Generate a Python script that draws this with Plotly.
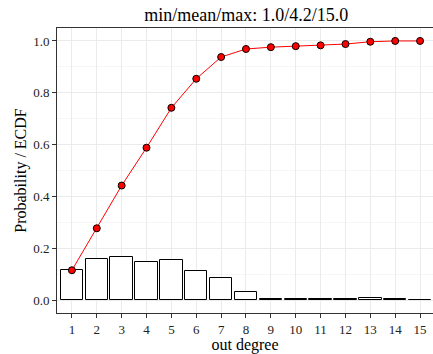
import plotly.graph_objects as go

degrees = list(range(1, 16))
probability = [0.115, 0.160, 0.168, 0.145, 0.154, 0.112, 0.085, 0.031,
               0.005, 0.004, 0.004, 0.003, 0.008, 0.004, 0.001]
ecdf = [0.115, 0.277, 0.442, 0.588, 0.742, 0.854, 0.938, 0.969,
        0.976, 0.980, 0.983, 0.988, 0.997, 1.000, 1.000]
title_text = "min/mean/max: 1.0/4.2/15.0"

font_family = "Liberation Serif, Times New Roman, serif"

fig = go.Figure()
fig.add_trace(go.Bar(
    x=degrees, y=probability, width=0.9,
    marker=dict(color="white", line=dict(color="black", width=1)),
    showlegend=False,
))
fig.add_trace(go.Scatter(
    x=degrees, y=ecdf, mode="lines+markers",
    line=dict(color="red", width=1),
    marker=dict(color="red", size=7, line=dict(color="black", width=1)),
    showlegend=False,
))

fig.update_layout(
    width=433, height=354,
    margin=dict(l=57, r=0, t=28, b=41),
    paper_bgcolor="white", plot_bgcolor="white",
    font=dict(family=font_family, color="black"),
    title=dict(text=title_text, x=0.5685, xanchor="center", y=0.958, yanchor="middle",
               font=dict(size=18, family=font_family, color="black")),
    bargap=0,
)
fig.update_xaxes(
    range=[0.4, 15.52], tickmode="array", tickvals=degrees,
    ticktext=[str(d) for d in degrees],
    ticks="outside", ticklen=4, tickcolor="#333333",
    showline=True, mirror=True, linecolor="#333333", linewidth=1,
    showgrid=True, gridcolor="#ebebeb", gridwidth=1, zeroline=False,
    tickfont=dict(size=13, family=font_family, color="#222222"),
    title=dict(text="out degree", font=dict(size=16, family=font_family), standoff=0),
)
fig.update_yaxes(
    range=[-0.05, 1.05], tickmode="array", tickvals=[0, 0.2, 0.4, 0.6, 0.8, 1.0],
    ticktext=["0.0", "0.2", "0.4", "0.6", "0.8", "1.0"],
    ticks="outside", ticklen=4, tickcolor="#333333",
    showline=True, mirror=True, linecolor="#333333", linewidth=1,
    showgrid=True, gridcolor="#ebebeb", gridwidth=1, zeroline=False,
    minor=dict(tickvals=[0.1, 0.3, 0.5, 0.7, 0.9], showgrid=True, gridcolor="#f6f6f6", ticks=""),
    tickfont=dict(size=13, family=font_family, color="#222222"),
    title=dict(text="Probability / ECDF", font=dict(size=16, family=font_family), standoff=2),
)

fig.write_html(
    "out.html",
    config={"displayModeBar": False},
    post_script="document.body.style.margin='0';document.body.style.padding='0';document.body.style.overflow='hidden';",
)
